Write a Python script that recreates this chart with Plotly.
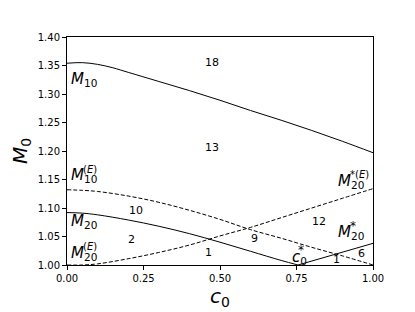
import plotly.graph_objects as go

# ---- data ----
c_M10 = [0.0, 0.05, 0.1, 0.15, 0.2, 0.3, 0.4, 0.5, 0.6, 0.7, 0.8, 0.9, 1.0]
M10 = [1.354, 1.355, 1.352, 1.346, 1.338, 1.322, 1.306, 1.289, 1.271, 1.254, 1.236, 1.217, 1.197]

c_M10E = [0.0, 0.05, 0.1, 0.2, 0.3, 0.4, 0.5, 0.6, 0.7, 0.8, 0.9, 1.0]
M10E = [1.132, 1.131, 1.129, 1.121, 1.110, 1.096, 1.080, 1.062, 1.047, 1.031, 1.016, 1.000]

c_M20 = [0.0, 0.05, 0.1, 0.2, 0.3, 0.4, 0.5, 0.6, 0.7, 0.755]
M20 = [1.092, 1.091, 1.088, 1.079, 1.068, 1.055, 1.040, 1.024, 1.008, 1.000]

c_M20sE = [0.0, 0.05, 0.1, 0.2, 0.3, 0.4, 0.5, 0.6, 0.7, 0.8, 0.9, 1.0]
M20sE = [1.000, 1.000, 1.002, 1.011, 1.022, 1.035, 1.051, 1.066, 1.083, 1.100, 1.117, 1.134]

c_M20s = [0.755, 0.8, 0.9, 1.0]
M20s = [1.000, 1.007, 1.022, 1.038]

x_ticks = [0.0, 0.25, 0.5, 0.75, 1.0]
y_ticks = [1.00, 1.05, 1.10, 1.15, 1.20, 1.25, 1.30, 1.35, 1.40]

region_labels = ["18", "13", "10", "2", "1", "9", "12", "1", "6"]
region_x = [0.474, 0.474, 0.224, 0.211, 0.462, 0.612, 0.822, 0.881, 0.964]
region_y = [1.3556, 1.2065, 1.0965, 1.0456, 1.0216, 1.0468, 1.077, 1.0105, 1.0205]

FONT = "DejaVu Sans"
DASH = "4px,2px"

fig = go.Figure()
solid = dict(color="black", width=1)
dashed = dict(color="black", width=1, dash=DASH)
fig.add_trace(go.Scatter(x=c_M10, y=M10, mode="lines", line=dict(**solid, shape="spline")))
fig.add_trace(go.Scatter(x=c_M10E, y=M10E, mode="lines", line=dict(**dashed, shape="spline")))
fig.add_trace(go.Scatter(x=c_M20, y=M20, mode="lines", line=dict(**solid, shape="spline")))
fig.add_trace(go.Scatter(x=c_M20sE, y=M20sE, mode="lines", line=dict(**dashed, shape="spline")))
fig.add_trace(go.Scatter(x=c_M20s, y=M20s, mode="lines", line=dict(**solid)))

ann = []
for t, x, y in zip(region_labels, region_x, region_y):
    ann.append(dict(x=x, y=y, text=t, showarrow=False, xanchor="center", yanchor="middle",
                    font=dict(family=FONT, size=11, color="black")))

def lab(x, y, text, size=15):
    ann.append(dict(x=x, y=y, text=text, showarrow=False, xanchor="left", yanchor="middle",
                    font=dict(family=FONT, size=size, color="black")))

# curve labels
lab(0.006, 1.326, "<i>M</i><sub>10</sub>")
lab(0.006, 1.157, "<i>M</i><sub>10</sub>")
lab(0.046, 1.168, "(<i>E</i>)", 10)
lab(0.006, 1.077, "<i>M</i><sub>20</sub>")
lab(0.006, 1.021, "<i>M</i><sub>20</sub>")
lab(0.046, 1.032, "(<i>E</i>)", 10)
lab(0.880, 1.147, "<i>M</i><sub>20</sub>")
lab(0.918, 1.158, "*(<i>E</i>)", 10)
lab(0.880, 1.057, "<i>M</i><sub>20</sub>")
lab(0.918, 1.068, "*", 12)
lab(0.728, 1.013, "<i>c</i><sub>0</sub>")
lab(0.749, 1.027, "*", 12)

axis_common = dict(showline=True, mirror=True, linecolor="black", linewidth=1,
                   ticks="outside", ticklen=4, tickwidth=1, tickcolor="black",
                   showgrid=False, zeroline=False,
                   tickfont=dict(family=FONT, size=10, color="black"))

# the page body has an 8px default margin, so the figure is 8px smaller
fig.update_layout(
    width=407, height=304,
    margin=dict(l=54, r=42, t=29, b=47),
    paper_bgcolor="white", plot_bgcolor="white",
    showlegend=False,
    annotations=ann,
    xaxis=dict(range=[0, 1], tickvals=x_ticks, tickformat=".2f",
               title=dict(text="<i>c</i><sub>0</sub>", standoff=0,
                          font=dict(family=FONT, size=20, color="black")),
               **axis_common),
    yaxis=dict(range=[1.0, 1.4], tickvals=y_ticks, tickformat=".2f",
               title=dict(text="<i>M</i><sub>0</sub>", standoff=4,
                          font=dict(family=FONT, size=20, color="black")),
               **axis_common),
)

fig.write_html("out.html")
